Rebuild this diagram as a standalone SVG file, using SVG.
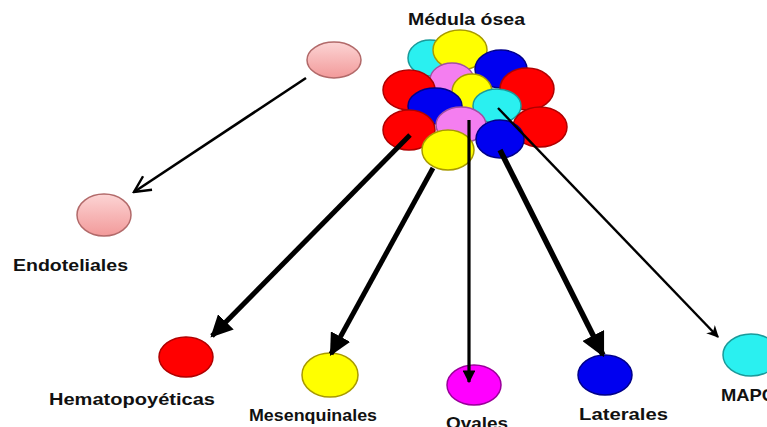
<svg xmlns="http://www.w3.org/2000/svg" width="767" height="427" viewBox="0 0 767 427">
<defs>
<linearGradient id="pk" x1="0" y1="0" x2="0" y2="1">
<stop offset="0" stop-color="#fcd4d4"/>
<stop offset="1" stop-color="#f29a9a"/>
</linearGradient>
<marker id="hf" viewBox="0 0 10 10" refX="9" refY="5" markerWidth="4.4" markerHeight="4.4" orient="auto" markerUnits="strokeWidth">
<path d="M0,0 L10,5 L0,10 Z" fill="#000"/>
</marker>
<marker id="hs" viewBox="0 0 10 10" refX="9" refY="5" markerWidth="4" markerHeight="4" orient="auto" markerUnits="strokeWidth">
<path d="M0,0 L10,5 L0,10 Z" fill="#000"/>
</marker>
<marker id="ho" viewBox="0 0 12 12" refX="11" refY="6" markerWidth="7.5" markerHeight="7.5" orient="auto" markerUnits="strokeWidth">
<path d="M1,1 L11,6 L1,11" fill="none" stroke="#000" stroke-width="1.5"/>
</marker>
<marker id="hm" viewBox="0 0 10 10" refX="9" refY="5" markerWidth="5" markerHeight="5" orient="auto" markerUnits="strokeWidth">
<path d="M0,0 L10,5 L0,10 L3,5 Z" fill="#000"/>
</marker>
</defs>
<style>
.t{font-family:"Liberation Sans",Arial,sans-serif;font-weight:bold;font-size:17px;fill:#111}
.r{fill:#ff0000;stroke:#b00000;stroke-width:1.5}
.y{fill:#ffff00;stroke:#a89a00;stroke-width:1.5}
.b{fill:#0000f0;stroke:#00008a;stroke-width:1.5}
.c{fill:#2af0f0;stroke:#1a9a9a;stroke-width:1.5}
.p{fill:#f47ef0;stroke:#a050a0;stroke-width:1.5}
.m{fill:#ff00ff;stroke:#9a009a;stroke-width:1.5}
.pk{fill:url(#pk);stroke:#b26a6a;stroke-width:1.5}
.ln{stroke:#000;fill:none}
</style>
<rect width="767" height="427" fill="#fff"/>
<g id="medula">
<ellipse class="c" cx="430" cy="58" rx="22" ry="18"/>
<ellipse class="y" cx="460" cy="50" rx="27" ry="20"/>
<ellipse class="p" cx="452" cy="80" rx="22" ry="17"/>
<ellipse class="b" cx="501" cy="69" rx="26" ry="19"/>
<ellipse class="r" cx="409" cy="90" rx="26" ry="20"/>
<ellipse class="y" cx="472" cy="92" rx="20" ry="18"/>
<ellipse class="r" cx="527" cy="89" rx="27" ry="21"/>
<ellipse class="b" cx="435" cy="106" rx="27" ry="18"/>
<ellipse class="c" cx="497" cy="106" rx="24" ry="17"/>
<ellipse class="r" cx="409" cy="130" rx="26" ry="20"/>
<ellipse class="r" cx="540" cy="127" rx="27" ry="20"/>
<ellipse class="p" cx="461" cy="125" rx="25" ry="18"/>
<ellipse class="b" cx="500" cy="139" rx="24" ry="19"/>
<ellipse class="y" cx="448" cy="150" rx="26" ry="20"/>
<text class="t" x="408" y="25" textLength="117" lengthAdjust="spacingAndGlyphs">Médula ósea</text>
</g>
<g id="endo-src">
<ellipse class="pk" cx="334" cy="60" rx="27" ry="18"/>
</g>
<g id="endoteliales">
<ellipse class="pk" cx="104" cy="215" rx="27" ry="21"/>
<text class="t" x="13" y="271" textLength="115" lengthAdjust="spacingAndGlyphs">Endoteliales</text>
</g>
<g id="hematopoyeticas">
<ellipse class="r" cx="186" cy="357" rx="27" ry="20"/>
<text class="t" x="49" y="405" textLength="166" lengthAdjust="spacingAndGlyphs">Hematopoyéticas</text>
</g>
<g id="mesenquinales">
<ellipse class="y" cx="330" cy="375" rx="28" ry="22"/>
<text class="t" x="249" y="421" textLength="128" lengthAdjust="spacingAndGlyphs">Mesenquinales</text>
</g>
<g id="ovales">
<ellipse class="m" cx="474" cy="385" rx="27" ry="20"/>
<text class="t" x="446" y="429" textLength="62" lengthAdjust="spacingAndGlyphs">Ovales</text>
</g>
<g id="laterales">
<ellipse class="b" cx="605" cy="375" rx="27" ry="20"/>
<text class="t" x="579" y="420" textLength="89" lengthAdjust="spacingAndGlyphs">Laterales</text>
</g>
<g id="mapc">
<ellipse class="c" cx="751" cy="355" rx="28" ry="21"/>
<text class="t" x="721" y="401" textLength="54" lengthAdjust="spacingAndGlyphs">MAPC</text>
</g>
<g id="connectors">
<line class="ln" x1="306" y1="78" x2="134" y2="192" stroke-width="2.6" marker-end="url(#ho)"/>
<line class="ln" x1="410" y1="135" x2="212" y2="336" stroke-width="5" marker-end="url(#hf)"/>
<line class="ln" x1="433" y1="168" x2="331" y2="354" stroke-width="5" marker-end="url(#hf)"/>
<line class="ln" x1="469" y1="120" x2="469" y2="382" stroke-width="3.2" marker-end="url(#hs)"/>
<line class="ln" x1="500" y1="150" x2="603" y2="355" stroke-width="5.5" marker-end="url(#hf)"/>
<line class="ln" x1="498" y1="108" x2="718" y2="337" stroke-width="2.4" marker-end="url(#hm)"/>
</g>
</svg>
